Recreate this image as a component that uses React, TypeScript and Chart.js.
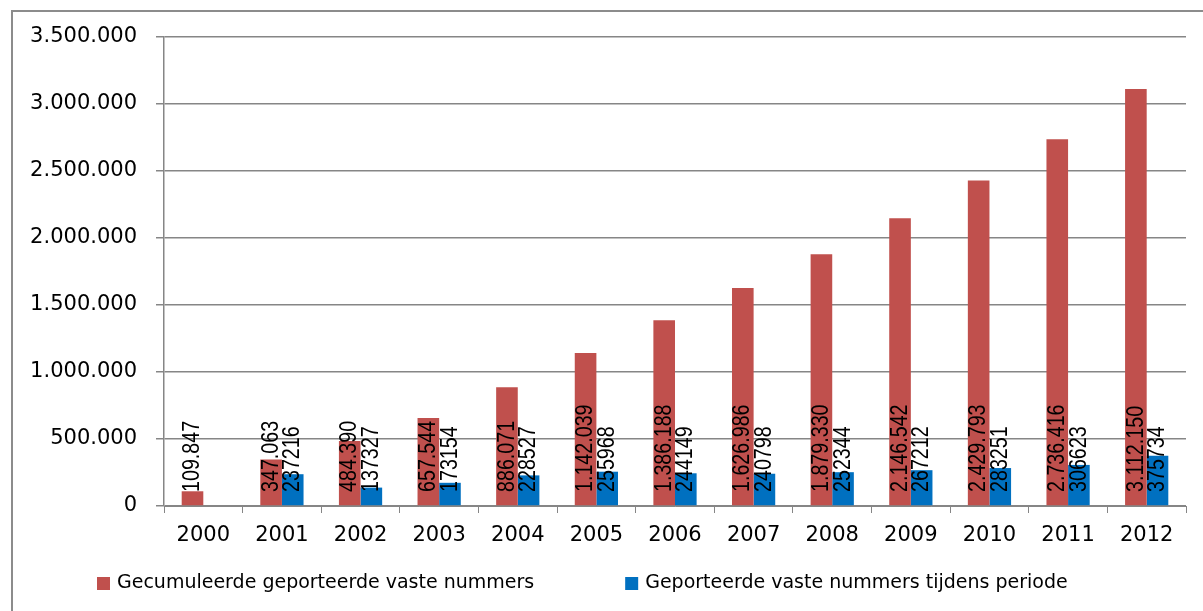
import React, { useEffect, useRef } from 'react';
import { Chart, registerables } from 'chart.js';

Chart.register(...registerables);

const years = ['2000', '2001', '2002', '2003', '2004', '2005', '2006', '2007', '2008', '2009', '2010', '2011', '2012'];
const cumulative = [109847, 347063, 484390, 657544, 886071, 1142039, 1386188, 1626986, 1879330, 2146542, 2429793, 2736416, 3112150];
const perPeriod = [null, 237216, 137327, 173154, 228527, 255968, 244149, 240798, 252344, 267212, 283251, 306623, 375734];
const seriesNames = ['Gecumuleerde geporteerde vaste nummers', 'Geporteerde vaste nummers tijdens periode'];
const seriesColors = ['#C0504D', '#0070C0'];
const yMin = 0;
const yMax = 3500000;
const yStep = 500000;

function fmtDots(v: number): string {
  return String(v).replace(/\B(?=(\d{3})+(?!\d))/g, '.');
}

const AXIS_FONT = { family: '"DejaVu Sans", sans-serif', size: 21 };
const GRID = '#868686';

const framePlugin = {
  id: 'frame',
  beforeDraw(chart: any) {
    const ctx = chart.ctx;
    ctx.save();
    ctx.fillStyle = '#ffffff';
    ctx.fillRect(0, 0, chart.width, chart.height);
    ctx.strokeStyle = '#8c8c8c';
    ctx.lineWidth = 2;
    ctx.beginPath();
    ctx.moveTo(12, chart.height + 10);
    ctx.lineTo(12, 11);
    ctx.lineTo(chart.width + 10, 11);
    ctx.stroke();
    ctx.restore();
  },
};

const valueLabelPlugin = {
  id: 'valueLabels',
  afterDatasetsDraw(chart: any) {
    const ctx = chart.ctx;
    const yScale = chart.scales.y;
    const base = yScale.getPixelForValue(0);
    ctx.save();
    ctx.fillStyle = '#000000';
    ctx.font = '24px "Liberation Sans", sans-serif';
    ctx.textAlign = 'left';
    ctx.textBaseline = 'middle';
    chart.data.datasets.forEach((ds: any, i: number) => {
      const meta = chart.getDatasetMeta(i);
      meta.data.forEach((bar: any, j: number) => {
        const v = ds.data[j];
        if (v === null || v === undefined) return;
        const text = i === 0 ? fmtDots(v) : String(v);
        ctx.save();
        ctx.translate(bar.x, base - 14);
        ctx.rotate(-Math.PI / 2);
        ctx.scale(0.82, 1);
        ctx.fillText(text, 0, 0);
        ctx.restore();
      });
    });
    ctx.restore();
  },
};

const legendPlugin = {
  id: 'customLegend',
  afterDraw(chart: any) {
    const ctx = chart.ctx;
    ctx.save();
    ctx.font = '19px "DejaVu Sans", sans-serif';
    ctx.textAlign = 'left';
    ctx.textBaseline = 'middle';
    let x = 97;
    const yc = 583.5;
    chart.data.datasets.forEach((ds: any) => {
      ctx.fillStyle = ds.backgroundColor;
      ctx.fillRect(x, yc - 6.5, 13, 13);
      ctx.fillStyle = '#000000';
      ctx.fillText(ds.label, x + 20, yc);
      x += 20 + ctx.measureText(ds.label).width + 91;
    });
    ctx.restore();
  },
};

export default function App() {
  const ref = useRef<HTMLCanvasElement | null>(null);

  useEffect(() => {
    if (!ref.current) return;
    const chart = new Chart(ref.current, {
      type: 'bar',
      data: {
        labels: years,
        datasets: [
          {
            label: seriesNames[0],
            data: cumulative,
            backgroundColor: seriesColors[0],
            categoryPercentage: 0.55,
            barPercentage: 1,
          },
          {
            label: seriesNames[1],
            data: perPeriod,
            backgroundColor: seriesColors[1],
            categoryPercentage: 0.55,
            barPercentage: 1,
          },
        ],
      },
      options: {
        animation: false,
        responsive: true,
        maintainAspectRatio: false,
        layout: { padding: { top: 37, right: 17, bottom: 57, left: 12 } },
        plugins: {
          legend: { display: false },
          tooltip: { enabled: false },
        },
        scales: {
          x: {
            grid: {
              display: true,
              drawOnChartArea: false,
              drawTicks: true,
              tickLength: 7,
              color: GRID,
              offset: true,
            },
            border: { display: true, color: GRID, width: 1 },
            ticks: { font: AXIS_FONT, color: '#000000', padding: 10, maxRotation: 0 },
            afterFit: (s: any) => {
              s.height = 48;
            },
          },
          y: {
            min: yMin,
            max: yMax,
            ticks: {
              stepSize: yStep,
              font: AXIS_FONT,
              color: '#000000',
              padding: 19,
              callback: (v: any) => fmtDots(Number(v)),
            },
            grid: { color: GRID, tickLength: 8, drawTicks: true, lineWidth: 1.5 },
            border: { display: true, color: GRID, width: 1.5 },
            afterFit: (s: any) => {
              s.width = 152;
            },
          },
        },
      },
      plugins: [framePlugin, valueLabelPlugin, legendPlugin],
    });
    return () => chart.destroy();
  }, []);

  return (
    <div style={{ position: 'fixed', left: 0, top: 0, width: 1203, height: 611, background: '#fff' }}>
      <canvas ref={ref} />
    </div>
  );
}
